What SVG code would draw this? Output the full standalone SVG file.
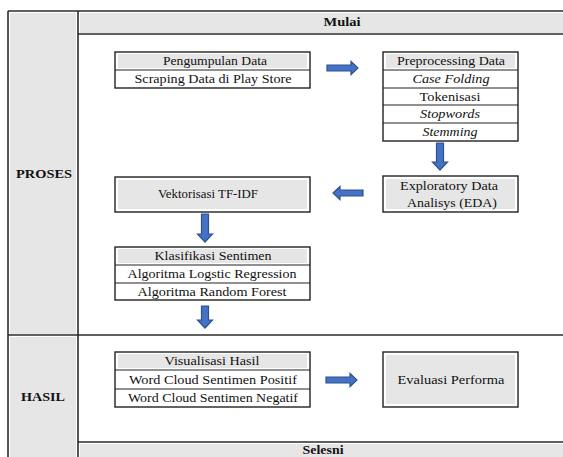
<svg xmlns="http://www.w3.org/2000/svg" width="563" height="457" viewBox="0 0 563 457">
<defs>
<style>
.frame{stroke:#2b2b2b;stroke-width:1.6;fill:none}
.band{fill:#e6e6e6}
.box{fill:#fff;stroke:#222;stroke-width:1.4}
.hdr{fill:#e6e6e6}
.line{stroke:#222;stroke-width:1.2}
text{font-family:'Liberation Serif','DejaVu Serif',serif;font-size:12.5px;fill:#111;text-anchor:middle}
.b{font-weight:bold}
.i{font-style:italic}
.arr{fill:#4472c4;stroke:#2f528f;stroke-width:1.2;stroke-linejoin:miter}
</style>
</defs>
<rect width="563" height="457" fill="#fff"/>
<g id="frame" font-family="Liberation Serif, serif">
<rect class="band" x="10" y="13" width="66" height="321"/>
<rect class="band" x="10" y="337" width="66" height="120"/>
<rect class="band" x="80" y="13" width="483" height="20"/>
<rect class="band" x="80" y="444" width="483" height="13"/>
<line class="frame" x1="8" y1="11" x2="563" y2="11"/>
<line class="frame" x1="8" y1="11" x2="8" y2="457"/>
<line class="frame" x1="78" y1="11" x2="78" y2="457"/>
<line class="frame" x1="78" y1="34" x2="563" y2="34"/>
<line class="frame" x1="8" y1="335" x2="563" y2="335"/>
<line class="frame" x1="78" y1="442" x2="563" y2="442"/>
<text class="b" x="342" y="26" textLength="37" lengthAdjust="spacingAndGlyphs">Mulai</text>
<text class="b" x="44" y="178" textLength="56" lengthAdjust="spacingAndGlyphs">PROSES</text>
<text class="b" x="43" y="401" textLength="44" lengthAdjust="spacingAndGlyphs">HASIL</text>
<text class="b" x="323" y="454" textLength="41" lengthAdjust="spacingAndGlyphs">Selesni</text>
</g>
<g id="pengumpulan">
<rect class="box" x="115" y="52" width="195" height="36"/>
<rect class="hdr" x="118" y="54" width="189" height="14"/>
<line class="line" x1="115" y1="70" x2="310" y2="70"/>
<text x="215" y="65" textLength="104" lengthAdjust="spacingAndGlyphs">Pengumpulan Data</text>
<text x="213" y="83" textLength="157" lengthAdjust="spacingAndGlyphs">Scraping Data di Play Store</text>
</g>
<g id="preprocessing">
<rect class="box" x="383" y="52" width="135" height="89"/>
<rect class="hdr" x="386" y="54" width="129" height="14"/>
<line class="line" x1="383" y1="70" x2="518" y2="70"/>
<line class="line" x1="383" y1="88" x2="518" y2="88"/>
<line class="line" x1="383" y1="105" x2="518" y2="105"/>
<line class="line" x1="383" y1="123" x2="518" y2="123"/>
<text x="451" y="65" textLength="108" lengthAdjust="spacingAndGlyphs">Preprocessing Data</text>
<text class="i" x="451" y="83" textLength="77" lengthAdjust="spacingAndGlyphs">Case Folding</text>
<text x="450" y="101" textLength="61" lengthAdjust="spacingAndGlyphs">Tokenisasi</text>
<text class="i" x="450" y="118" textLength="60" lengthAdjust="spacingAndGlyphs">Stopwords</text>
<text class="i" x="450" y="136" textLength="55" lengthAdjust="spacingAndGlyphs">Stemming</text>
</g>
<g id="eda">
<rect class="box" x="383" y="176" width="135" height="36"/>
<rect class="hdr" x="386" y="179" width="129" height="30"/>
<text x="449" y="190" textLength="98" lengthAdjust="spacingAndGlyphs">Exploratory Data</text>
<text x="452" y="207" textLength="90" lengthAdjust="spacingAndGlyphs">Analisys (EDA)</text>
</g>
<g id="vektorisasi">
<rect class="box" x="115" y="177" width="195" height="35"/>
<rect class="hdr" x="118" y="180" width="189" height="29"/>
<text x="208" y="198" textLength="100" lengthAdjust="spacingAndGlyphs">Vektorisasi TF-IDF</text>
</g>
<g id="klasifikasi">
<rect class="box" x="115" y="247" width="195" height="53"/>
<rect class="hdr" x="118" y="249" width="189" height="14"/>
<line class="line" x1="115" y1="265" x2="310" y2="265"/>
<line class="line" x1="115" y1="283" x2="310" y2="283"/>
<text x="213" y="260" textLength="117" lengthAdjust="spacingAndGlyphs">Klasifikasi Sentimen</text>
<text x="212" y="278" textLength="169" lengthAdjust="spacingAndGlyphs">Algoritma Logstic Regression</text>
<text x="212" y="296" textLength="149" lengthAdjust="spacingAndGlyphs">Algoritma Random Forest</text>
</g>
<g id="visualisasi">
<rect class="box" x="115" y="352" width="195" height="55"/>
<rect class="hdr" x="118" y="354" width="189" height="14"/>
<line class="line" x1="115" y1="370" x2="310" y2="370"/>
<line class="line" x1="115" y1="389" x2="310" y2="389"/>
<text x="212" y="365" textLength="95" lengthAdjust="spacingAndGlyphs">Visualisasi Hasil</text>
<text x="213" y="384" textLength="168" lengthAdjust="spacingAndGlyphs">Word Cloud Sentimen Positif</text>
<text x="213" y="402" textLength="170" lengthAdjust="spacingAndGlyphs">Word Cloud Sentimen Negatif</text>
</g>
<g id="evaluasi">
<rect class="box" x="383" y="352" width="135" height="55"/>
<rect class="hdr" x="386" y="355" width="129" height="49"/>
<text x="451" y="384" textLength="107" lengthAdjust="spacingAndGlyphs">Evaluasi Performa</text>
</g>
<g id="connectors">
<path class="arr" d="M327,65 H351 V61.5 L358,68 L351,74.5 V71 H327 Z"/>
<path class="arr" d="M436.5,143 V162 H432.5 L440,170 L447.5,162 H443.5 V143 Z"/>
<path class="arr" d="M363,190 H340 V186.5 L333,193 L340,199.5 V196 H363 Z"/>
<path class="arr" d="M201.5,214 V234 H197.5 L205,242 L212.5,234 H208.5 V214 Z"/>
<path class="arr" d="M201.5,306 V320 H197.5 L205,328 L212.5,320 H208.5 V306 Z"/>
<path class="arr" d="M326,377 H350 V373.5 L357,380 L350,386.5 V383 H326 Z"/>
</g>
</svg>
